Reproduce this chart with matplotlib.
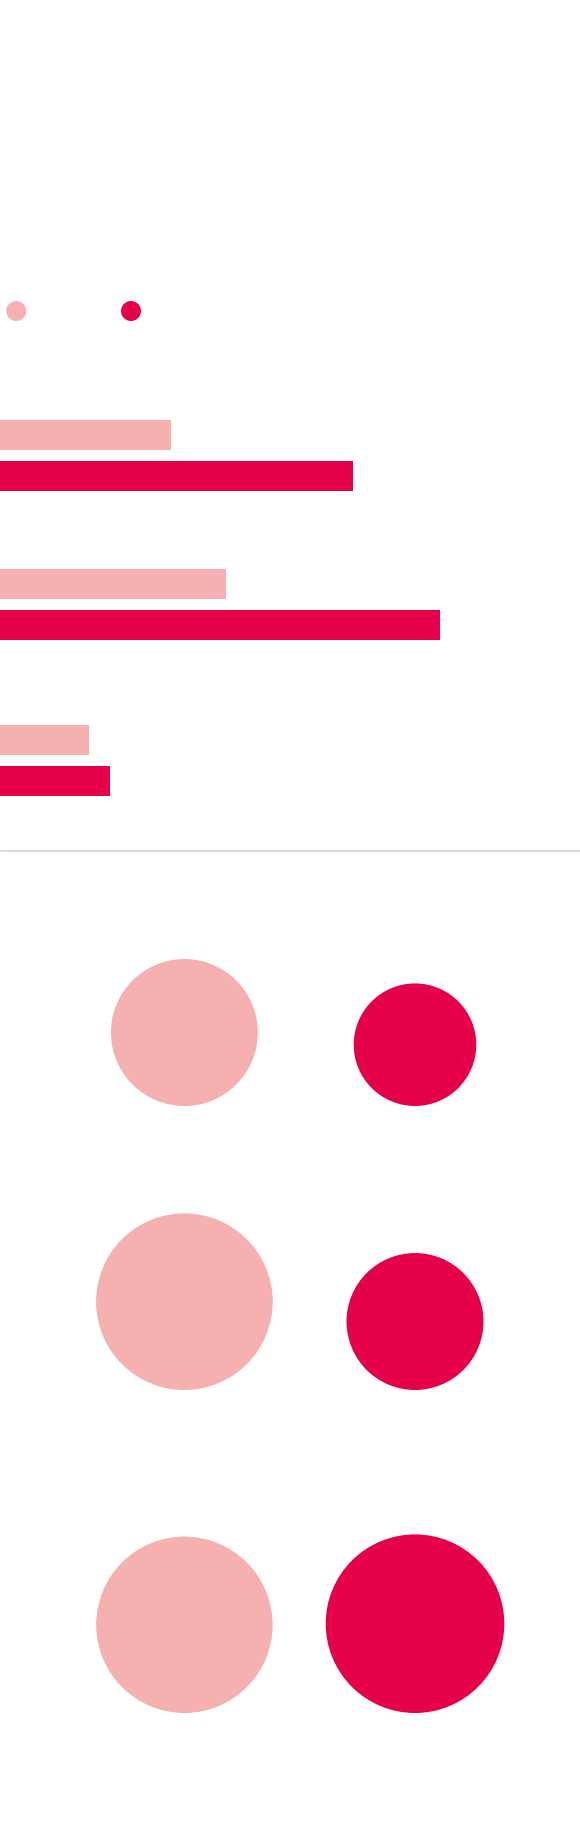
import matplotlib
matplotlib.use("Agg")
import matplotlib.pyplot as plt
import numpy as np
from matplotlib.patches import Circle

W, H, DPI = 580, 1822, 100

# two series, three categories
series = ["series_1", "series_2"]
colors = ["#f5b0b0", "#e5004a"]

bar_values_1 = [29.5, 38.9, 15.4]
bar_values_2 = [60.8, 75.9, 19.0]

circle_values_1 = [67.7, 97.8, 97.6]
circle_values_2 = [47.1, 58.8, 100.0]

# layout (figure pixels, from the top)
legend_y = 311
legend_x = [16.3, 131]
legend_r = 10
bar_group_y = [435, 583.5, 740.2]
bar_step = 41
bar_h = 30
baseline_y = 851
circle_cx = [184.4, 415.0]
circle_bottom = [1106, 1390, 1713]
circle_rmax = 89.3


def add_px_axes(fig, top, bottom):
    ax = fig.add_axes([0, 1 - bottom / H, 1, (bottom - top) / H])
    ax.set_axis_off()
    ax.set_ylim(bottom, top)
    return ax


fig = plt.figure(figsize=(W / DPI, H / DPI), dpi=DPI)
fig.patch.set_facecolor("white")

# legend markers
ax_leg = add_px_axes(fig, 0, 380)
ax_leg.set_xlim(0, W)
for x, c in zip(legend_x, colors):
    ax_leg.add_patch(Circle((x, legend_y), legend_r, color=c, lw=0))

# bars
ax_bar = add_px_axes(fig, 380, 860)
ax_bar.set_xlim(0, 100)
y1 = np.array(bar_group_y)
ax_bar.barh(y1, bar_values_1, height=bar_h, color=colors[0], lw=0)
ax_bar.barh(y1 + bar_step, bar_values_2, height=bar_h, color=colors[1], lw=0)
ax_bar.axhline(baseline_y, xmin=1 / W, color="#d0d0d0", lw=1.1)

# circles, area proportional to value, bottom aligned
ax_c = add_px_axes(fig, 860, H)
ax_c.set_xlim(0, W)
vmax = max(circle_values_1 + circle_values_2)
for vals, cx, c in zip([circle_values_1, circle_values_2], circle_cx, colors):
    for v, b in zip(vals, circle_bottom):
        r = circle_rmax * np.sqrt(v / vmax)
        ax_c.add_patch(Circle((cx, b - r), r, color=c, lw=0))

fig.savefig("out.png", dpi=DPI, facecolor="white")
